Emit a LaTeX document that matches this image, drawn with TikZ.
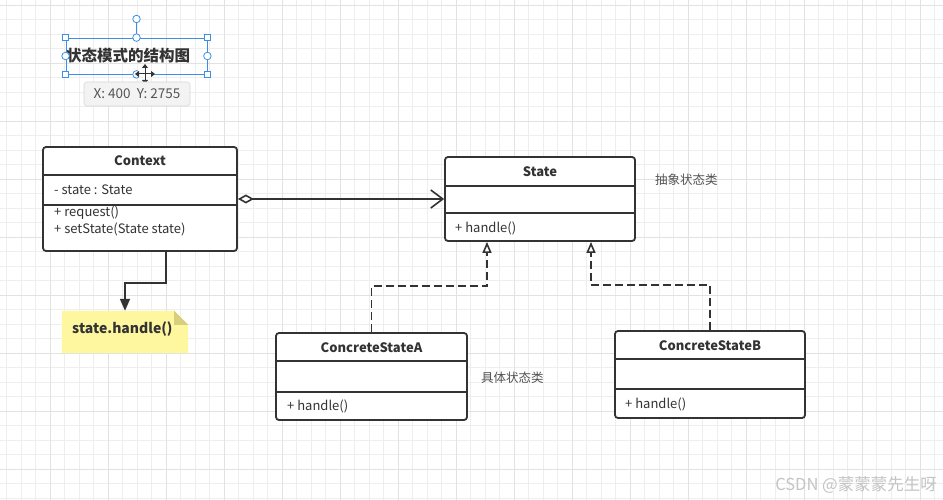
\documentclass[tikz,border=0pt]{standalone}
\usepackage{fontspec}
\setmainfont{Noto Sans CJK SC}
\usetikzlibrary{arrows.meta,calc}
\definecolor{ink}{HTML}{333333}
\definecolor{gridminor}{HTML}{EEEEEE}
\definecolor{gridmajor}{HTML}{E2E2E2}
\definecolor{notefill}{HTML}{FFF6A0}
\definecolor{notefold}{HTML}{D8CF7C}
\definecolor{selblue}{HTML}{3D8FE6}
\definecolor{tipfill}{HTML}{F3F3F3}
\definecolor{tipborder}{HTML}{D6D6D6}
\definecolor{tiptext}{HTML}{555555}
\definecolor{wmgray}{HTML}{C4C4C4}
\tikzset{
  umlbox/.style={draw=ink, line width=1.8pt, fill=white, rounded corners=3pt, inner sep=0pt},
  divider/.style={draw=ink, line width=1.6pt},
  clsname/.style={font=\bfseries\fontsize{13}{15}\selectfont, text=ink, inner sep=0pt},
  member/.style={font=\fontsize{13}{15}\selectfont, text=ink, anchor=west, inner sep=0pt},
  cnlabel/.style={font=\fontsize{12.5}{14}\selectfont, text=ink!85, anchor=west, inner sep=0pt},
  conn/.style={draw=ink, line width=1.6pt},
  realize/.style={conn, dash pattern=on 8pt off 4pt, -{Triangle[open,length=11pt,width=9pt]}},
  handlesq/.style={draw=selblue, fill=white, line width=0.8pt, minimum size=6.5pt, inner sep=0pt},
  handlecirc/.style={draw=selblue, fill=white, line width=0.8pt, circle, minimum size=7.5pt, inner sep=0pt}
}
\begin{document}
\begin{tikzpicture}[x=1pt,y=-1pt]
\useasboundingbox (0,0) rectangle (943,500);
\fill[white] (0,0) rectangle (943,500);
% grid
\foreach \i in {0,...,64} {
  \draw[gridminor, line width=0.8pt] ({6.5+14.5*\i},0) -- ({6.5+14.5*\i},500);
}
\foreach \i in {0,...,34} {
  \draw[gridminor, line width=0.8pt] (0,{5.3+14.5*\i}) -- (943,{5.3+14.5*\i});
}
\foreach \i in {0,...,16} {
  \draw[gridmajor, line width=1pt] ({50+58*\i},0) -- ({50+58*\i},500);
}
\foreach \i in {0,...,8} {
  \draw[gridmajor, line width=1pt] (0,{5.3+58*\i}) -- (943,{5.3+58*\i});
}

% title with selection UI
\node[font=\bfseries\fontsize{15.5}{18}\selectfont, text=ink, inner sep=0pt] (title) at (128,56) {状态模式的结构图};
\node[draw=selblue, line width=0.8pt, minimum width=141pt, minimum height=36pt, inner sep=0pt] (sel) at (136.5,56) {};
\coordinate (rot) at (136.5,19);
\draw[selblue, line width=0.8pt] (sel.north) -- (rot);
\node[handlecirc] (hrot) at (rot) {};
\node[handlesq] (hnw) at (sel.north west) {};
\node[handlesq] (hne) at (sel.north east) {};
\node[handlesq] (hsw) at (sel.south west) {};
\node[handlesq] (hse) at (sel.south east) {};
\node[handlecirc] (hn) at (sel.north) {};
\node[handlecirc] (hw) at (sel.west) {};
\node[handlecirc] (he) at (sel.east) {};
\node[handlecirc] (hs) at (sel.south) {};
% move cursor
\coordinate (cur) at (145,74);
\foreach \a in {0,90,180,270} {
  \draw[white, line width=4pt, -{Triangle[length=5pt,width=8pt]}] (cur) -- ++(\a:10);
}
\foreach \a in {0,90,180,270} {
  \draw[black!80, line width=1pt, -{Triangle[length=4pt,width=6pt]}] (cur) -- ++(\a:10);
}
% tooltip
\node[fill=tipfill, draw=tipborder, line width=0.6pt, rounded corners=3pt, minimum width=106pt, minimum height=24pt, font=\fontsize{13.5}{15}\selectfont, text=tiptext] (tip) at (137,94) {X: 400\ \ Y: 2755};

% Context
\node[umlbox, minimum width=194pt, minimum height=104pt] (ctx) at (140,199) {};
\draw[divider] (43,175) -- (237,175);
\draw[divider] (43,205) -- (237,205);
\node[clsname] (ctxname) at (140,161) {Context};
\node[member] (ctxattr) at (54,190) {- state : State};
\node[member] (ctxm1) at (54,213) {+ request()};
\node[member] (ctxm2) at (54,229) {+ setState(State state)};

% State
\node[umlbox, minimum width=190pt, minimum height=84pt] (st) at (540,199) {};
\draw[divider] (445,186) -- (635,186);
\draw[divider] (445,213) -- (635,213);
\node[clsname] (stname) at (540,172) {State};
\node[member] (stm) at (455,228) {+ handle()};
\node[cnlabel] (abslabel) at (655,180) {抽象状态类};

% ConcreteStateA
\node[umlbox, minimum width=191pt, minimum height=87pt] (csa) at (371.5,376.5) {};
\draw[divider] (276,361) -- (467,361);
\draw[divider] (276,392) -- (467,392);
\node[clsname] (csaname) at (371.5,348) {ConcreteStateA};
\node[member] (csam) at (287,406) {+ handle()};
\node[cnlabel] (conclabel) at (481,378) {具体状态类};

% ConcreteStateB
\node[umlbox, minimum width=190pt, minimum height=87pt] (csb) at (710,374.5) {};
\draw[divider] (615,359) -- (805,359);
\draw[divider] (615,389) -- (805,389);
\node[clsname] (csbname) at (710,346) {ConcreteStateB};
\node[member] (csbm) at (625,404) {+ handle()};

% note
\node[minimum width=126pt, minimum height=42pt, inner sep=0pt] (note) at (125,332) {};
\fill[notefill] (note.north west) -- ([xshift=-14pt]note.north east) -- ([yshift=-14pt]note.north east) -- (note.south east) -- (note.south west) -- cycle;
\fill[notefold] ([xshift=-14pt]note.north east) -- ([xshift=-14pt,yshift=-14pt]note.north east) -- ([yshift=-14pt]note.north east) -- cycle;
\node[font=\bfseries\fontsize{14}{16}\selectfont, text=ink, anchor=west, inner sep=0pt] (notetext) at (72,329) {state.handle()};

% connectors
\draw[conn, {Diamond[open,length=16pt,width=9pt]}-{Straight Barb[length=12pt,width=18pt]}] (ctx.east) -- (st.west);
\draw[conn, -{Triangle[length=12pt,width=10pt]}] ([xshift=26pt]ctx.south) -- ++(0,31) -| (note.north);
\draw[realize] (csa.north) -- ++(0,-46) -| ([xshift=-53pt]st.south);
\draw[realize] (csb.north) -- ++(0,-45) -| ([xshift=51pt]st.south);

% watermark
\node[font=\fontsize{16.5}{18}\selectfont, text=wmgray, anchor=east, inner sep=0pt] (wm) at (937,485) {CSDN @蒙蒙蒙先生呀};
\end{tikzpicture}
\end{document}
